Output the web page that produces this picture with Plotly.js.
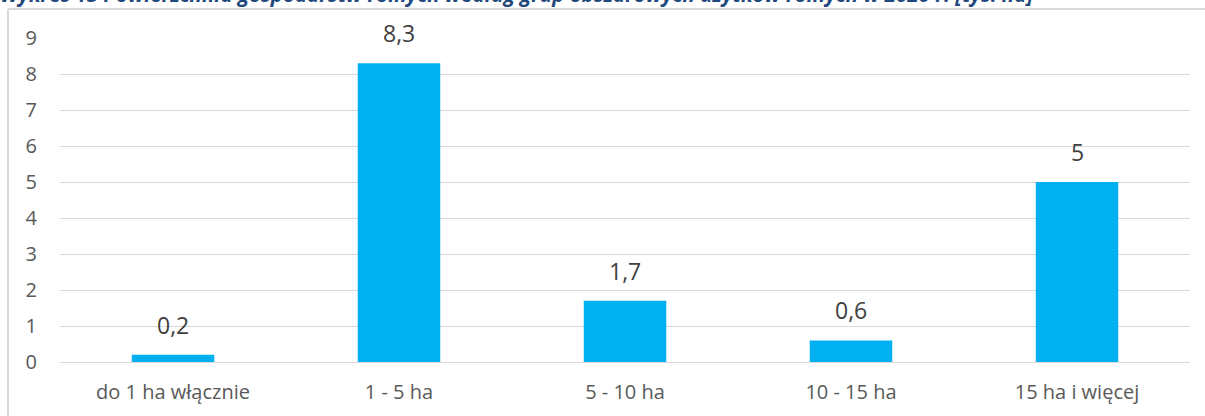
<!DOCTYPE html>
<html><head><meta charset="utf-8">
<script src="https://cdn.plot.ly/plotly-3.0.1.min.js"></script>
<style>html,body{margin:0;padding:0;background:#fff;}#chart{width:1205px;height:416px;}</style>
</head><body><div id="chart"></div>
<script>
const categories = ["do 1 ha włącznie", "1 - 5 ha", "5 - 10 ha", "10 - 15 ha", "15 ha i więcej"];
const values = [0.2, 8.3, 1.7, 0.6, 5];
const valueLabels = ["0,2", "8,3", "1,7", "0,6", "5"];
const yTicks = [0,1,2,3,4,5,6,7,8,9];
const titleText = "Wykres 13 Powierzchnia gospodarstw rolnych według grup obszarowych użytków rolnych w 2020 r. [tys. ha]";

const W = 1205, H = 416, L = 60, R = 15, T = 38, B = 54;
const pw = W - L - R, ph = H - T - B;
const px = p => (p - L) / pw;
const py = p => (H - B - p) / ph;

const trace = {
  type: 'bar', x: categories, y: values,
  marker: {color: '#00B0F0'},
  hoverinfo: 'none'
};
const labelAnns = categories.map((c, i) => ({
  x: c, y: values[i], xref: 'x', yref: 'y', text: valueLabels[i], showarrow: false,
  xanchor: 'center', yanchor: 'bottom', yshift: 12,
  font: {family: 'Open Sans, sans-serif', size: 23, color: '#404040'}
}));
const layout = {
  width: W, height: H,
  margin: {l: L, r: R, t: T, b: B, pad: 0},
  paper_bgcolor: '#fff', plot_bgcolor: '#fff',
  showlegend: false, bargap: 0.635,
  font: {family: 'Open Sans, sans-serif', color: '#595959', size: 20},
  xaxis: {type: 'category', showgrid: false, showline: false, zeroline: false, ticks: '', ticklabelstandoff: 16,
          tickfont: {size: 20, color: '#595959'}},
  yaxis: {range: [0, 9], tickvals: yTicks, showgrid: true, gridcolor: '#d9d9d9', gridwidth: 1,
          zeroline: true, zerolinecolor: '#d9d9d9', zerolinewidth: 1, showline: false, ticks: '',
          ticklabelstandoff: 22, tickfont: {size: 20, color: '#595959'}},
  shapes: [
    {type: 'line', xref: 'paper', yref: 'paper', x0: px(8), x1: px(8), y0: py(9), y1: py(420), line: {color: '#d9d9d9', width: 2}},
    {type: 'line', xref: 'paper', yref: 'paper', x0: px(8), x1: px(1210), y0: py(9), y1: py(9), line: {color: '#d9d9d9', width: 2}}
  ],
  annotations: labelAnns.concat([
    {text: '<b><i>' + titleText + '</i></b>', xref: 'paper', yref: 'paper', x: px(-2), y: py(10), xanchor: 'left', yanchor: 'bottom',
     showarrow: false, font: {family: 'Open Sans, sans-serif', size: 20.5, color: '#1F497D'}}
  ])
};
Plotly.newPlot('chart', [trace], layout, {displayModeBar: false, staticPlot: true});
</script></body></html>
